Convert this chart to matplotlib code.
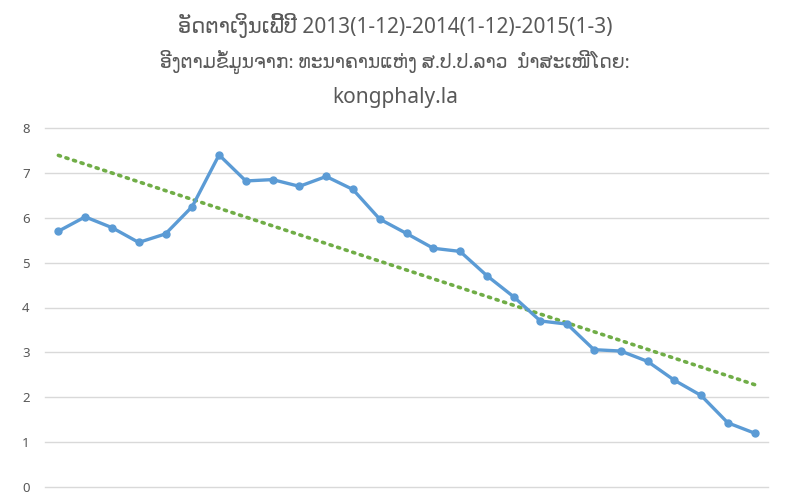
import numpy as np
import matplotlib
matplotlib.use("Agg")
import matplotlib.pyplot as plt

plt.rcParams['font.family'] = ['Noto Sans', 'DejaVu Sans']

title_lines = [
    "ອັດຕາເງິນເຟີ້ປີ 2013(1-12)-2014(1-12)-2015(1-3)",
    "ອີງຕາມຂໍ້ມູນຈາກ: ທະນາຄານແຫ່ງ ສ.ປ.ປ.ລາວ  ນຳສະເໜີໂດຍ:",
    "kongphaly.la",
]

# monthly inflation rate, Jan 2013 .. Mar 2015
inflation = [5.70, 6.02, 5.78, 5.45, 5.64, 6.25, 7.40, 6.82, 6.85, 6.70,
             6.92, 6.63, 5.97, 5.65, 5.32, 5.25, 4.71, 4.24, 3.70, 3.63,
             3.06, 3.03, 2.80, 2.38, 2.04, 1.43, 1.20]
yticks = [0, 1, 2, 3, 4, 5, 6, 7, 8]

x = np.arange(len(inflation))
slope, icpt = np.polyfit(x, inflation, 1)
trend = slope * x + icpt

fig = plt.figure(figsize=(7.9, 5.0), dpi=100)
ax = fig.add_axes([45/790, 13/500, 723/790, 359/500])

for y in yticks:
    ax.axhline(y, color='#d9d9d9', lw=1, zorder=0, clip_on=False)

ax.plot(x, trend, color='#70ad47', lw=2.6, ls=(0, (0.6, 1.6)),
        dash_capstyle='round', zorder=2)
ax.plot(x, inflation, color='#5b9bd5', lw=2.4, marker='o', ms=5,
        zorder=3)

ax.set_xlim(-0.5, len(inflation) - 0.5)
ax.set_ylim(0, 8)
ax.set_yticks(yticks)
ax.set_xticks([])
ax.tick_params(axis='y', length=0, pad=11, labelsize=9.5, labelcolor='#595959')
for s in ax.spines.values():
    s.set_visible(False)

sizes = [15, 13.5, 15]
for i, line in enumerate(title_lines):
    fig.text(0.5, 1 - (26 + 36 * i) / 500, line, ha='center', va='center',
             fontsize=sizes[i], color='#595959')

fig.savefig('out.png', dpi=100, facecolor='white')
